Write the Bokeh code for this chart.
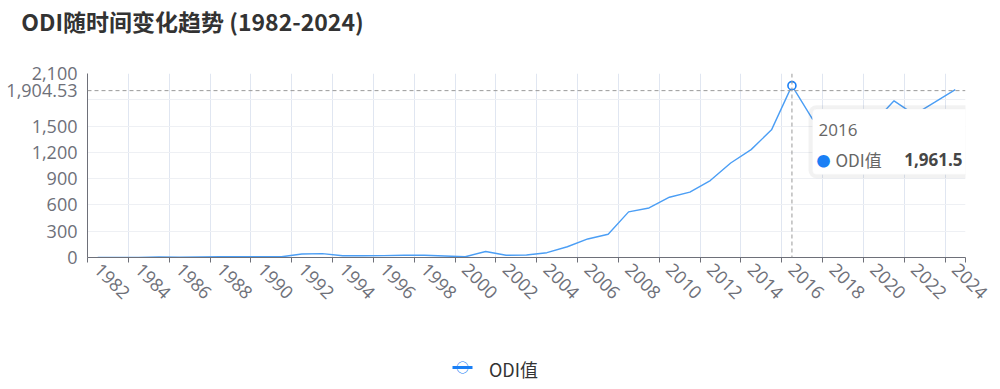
import math
from bokeh.plotting import figure
from bokeh.models import (Range1d, FixedTicker, NumeralTickFormatter, Span, Label,
                          BoxAnnotation, ColumnDataSource, LinearAxis)
from bokeh.embed import file_html
from bokeh.resources import INLINE

# ---------------- data ----------------
title_text = "ODI随时间变化趋势 (1982-2024)"
series_name = "ODI值"
years = list(range(1982, 2025))
odi = [0.44, 0.93, 1.34, 6.29, 4.5, 6.45, 8.5, 7.8, 8.3, 9.13,
       40.0, 44.0, 20.0, 20.0, 21.14, 25.62, 26.34, 17.74, 9.16, 68.85,
       25.18, 28.55, 54.98, 122.61, 211.6, 265.1, 521.0, 565.3, 688.1, 746.5,
       878.0, 1078.4, 1231.2, 1456.7, 1961.5, 1582.9, 1430.4, 1369.1, 1537.1, 1788.2,
       1631.2, 1772.9, 1915.0]
y_ticks = [0, 300, 600, 900, 1200, 1500, 1800, 2100]
hover_year = 2016
pointer_value = 1904.53

# ---------------- geometry (canvas pixels of the frame) ----------------
W, H = 1000, 389
PL, PR, PT, PB = 87, 965, 71, 257
x_lo, x_hi = -0.5, len(years) - 0.5
y_lo, y_hi = 0, 2100


def xd(px):
    return round(x_lo + (px - PL) / (PR - PL) * (x_hi - x_lo), 4)


def yd(py):
    return round(y_lo + (PB - py) / (PB - PT) * (y_hi - y_lo), 4)


BLUE = "#4b9ef5"
DOT = "#1a7ff5"
AXIS = "#6E7079"
NUMFONT = "Open Sans"
CJK = "Noto Sans CJK SC"

idx = list(range(len(years)))
src = ColumnDataSource(dict(x=idx, y=odi))

p = figure(width=W, height=H, output_backend="svg", toolbar_location=None,
           x_range=Range1d(x_lo, x_hi), y_range=Range1d(y_lo, y_hi),
           min_border_left=PL, min_border_right=W - PR,
           min_border_top=PT, min_border_bottom=H - PB)
p.outline_line_color = None
p.background_fill_color = "white"
p.border_fill_color = "white"
p.title.text = ""
p.title.standoff = 0
p.title.visible = False

# ---------------- main axes ----------------
hi = years.index(hover_year)
boundaries = [i - 0.5 for i in range(0, len(years), 2)] + [x_hi]
xax = p.xaxis[0]
xax.ticker = FixedTicker(ticks=list(range(0, len(years), 2)), minor_ticks=boundaries)
xax.major_label_overrides = {i: str(years[i]) for i in range(0, len(years), 2)}
xax.major_tick_line_color = None
xax.major_tick_out = 0
xax.major_tick_in = 0
xax.minor_tick_line_color = AXIS
xax.minor_tick_in = 0
xax.minor_tick_out = 5
xax.axis_line_color = AXIS
xax.major_label_orientation = -math.pi / 4
xax.major_label_text_font = NUMFONT
xax.major_label_text_font_size = "18px"
xax.major_label_text_color = AXIS
xax.major_label_standoff = 4
# empty spacer label that keeps the legend row at the bottom of the page
xax.axis_label = "\u00a0"
xax.axis_label_text_font_size = "10px"
xax.axis_label_standoff = 46

yax = p.yaxis[0]
yax.ticker = FixedTicker(ticks=y_ticks + [pointer_value])
yax.formatter = NumeralTickFormatter(format="0,0")
yax.major_label_overrides = {1800: "", pointer_value: f"{pointer_value:,.2f}"}
yax.major_tick_line_color = None
yax.minor_tick_line_color = None
yax.major_tick_out = 0
yax.major_tick_in = 0
yax.minor_tick_out = 0
yax.minor_tick_in = 0
yax.axis_line_color = AXIS
yax.major_label_text_font = NUMFONT
yax.major_label_text_font_size = "18px"
yax.major_label_text_color = AXIS
yax.major_label_standoff = 10

p.xgrid.ticker = FixedTicker(ticks=boundaries)
p.xgrid.grid_line_color = "#E0E6F1"
p.ygrid.ticker = FixedTicker(ticks=y_ticks)
p.ygrid.grid_line_color = "#EEF0F4"

# ---------------- axis pointer (crosshair) ----------------
p.add_layout(Span(location=hi, dimension="height", line_color="#9a9a9a",
                  line_dash="4 3", line_width=1))
p.add_layout(Span(location=pointer_value, dimension="width", line_color="#9a9a9a",
                  line_dash="4 3", line_width=1))

# ---------------- series ----------------
p.line("x", "y", source=src, line_color=BLUE, line_width=1.4)
hover_src = ColumnDataSource(dict(x=[hi], y=[odi[hi]]))
p.scatter("x", "y", source=hover_src, marker="circle", size=8, fill_color="white",
          line_color=DOT, line_width=1.6)


# ---------------- text rows carried by bare axes (side panels are not clipped) ----
def text_axis(side, tick, label, font, size, color, style="normal", standoff=0,
              bounds=None, line_color=None, line_width=1):
    ax = LinearAxis(ticker=FixedTicker(ticks=[tick]),
                    major_label_overrides={tick: label},
                    axis_line_color=line_color, axis_line_width=line_width,
                    major_tick_line_color=None, minor_tick_line_color=None,
                    major_tick_out=0, major_tick_in=0, minor_tick_out=0, minor_tick_in=0,
                    major_label_standoff=standoff, major_label_text_font=font,
                    major_label_text_font_size=size, major_label_text_color=color,
                    major_label_text_font_style=style)
    if bounds is not None:
        ax.bounds = bounds
    p.add_layout(ax, side)
    return ax


# title (centred between its left and right ends in the reference)
text_axis("above", xd(192), title_text, CJK, "23px", "#333333", style="bold",
          standoff=36)

# legend: blue line (axis line), label, open circle
text_axis("below", xd(513), series_name, CJK, "18px", "#333333", standoff=-12,
          bounds=(xd(452), xd(472)), line_color=DOT, line_width=3)
text_axis("below", xd(462), "○", CJK, "13px", DOT, style="bold", standoff=-28)

# ---------------- tooltip ----------------
p.add_layout(BoxAnnotation(left=xd(808), right=xd(989), top=yd(103), bottom=yd(177),
                           fill_color="black", fill_alpha=0.05, line_color=None,
                           border_radius=8, level="overlay"))
p.add_layout(BoxAnnotation(left=xd(812), right=xd(985), top=yd(107), bottom=yd(173),
                           fill_color="white", fill_alpha=1, line_color="#f0f0f0",
                           border_radius=4, level="overlay"))


def tip_text(px, py, text, font, color, align="left", style="normal", size="17px"):
    p.add_layout(Label(x=xd(px), y=yd(py), text=text, text_font=font,
                       text_font_size=size, text_font_style=style, text_color=color,
                       text_align=align, text_baseline="middle", level="overlay"))


tip_text(818, 128, str(hover_year), NUMFONT, "#666666")
tip_text(823, 158, "●", CJK, DOT, align="center", size="14px")
tip_text(835, 158, series_name, CJK, "#666666")
tip_text(962, 158, f"{odi[hi]:,.1f}", NUMFONT, "#464646", align="right", style="bold")

open("out.html", "w").write(file_html(p, INLINE))
